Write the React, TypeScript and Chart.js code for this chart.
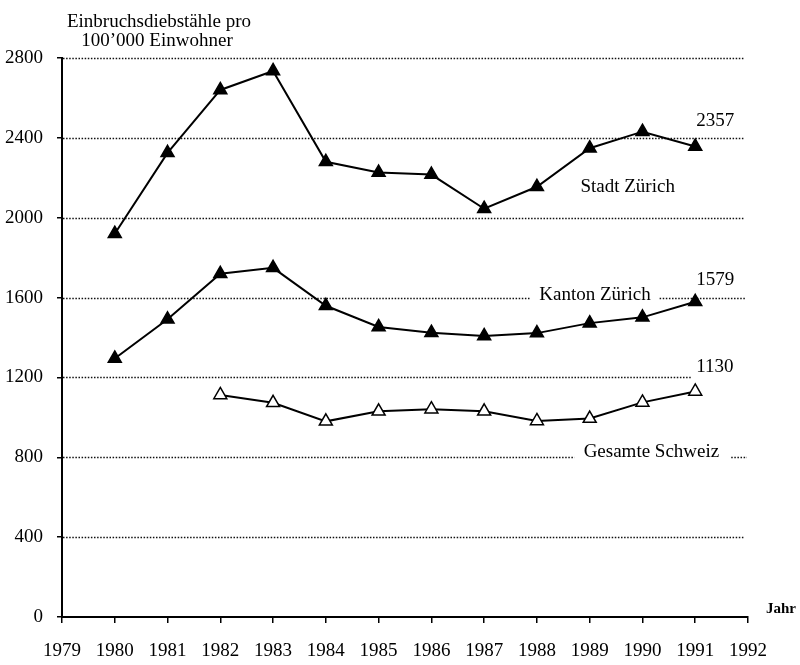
import React, { useEffect, useRef } from "react";
import { Chart, registerables } from "chart.js";

Chart.register(...registerables);

const years = ["1979", "1980", "1981", "1982", "1983", "1984", "1985", "1986", "1987", "1988", "1989", "1990", "1991", "1992"];
const stadtZuerich = [null, 1920, 2325, 2640, 2735, 2280, 2226, 2216, 2045, 2155, 2348, 2431, 2357, null];
const kantonZuerich = [null, 1295, 1491, 1719, 1749, 1559, 1453, 1424, 1408, 1422, 1472, 1501, 1579, null];
const gesamteSchweiz = [null, null, null, 1112, 1073, 980, 1030, 1041, 1030, 982, 994, 1075, 1130, null];
const seriesNames = ["Stadt Zürich", "Kanton Zürich", "Gesamte Schweiz"];
const gridValues = [400, 800, 1200, 1600, 2000, 2400, 2800];
const titleLines = ["Einbruchsdiebstähle pro", "100’000 Einwohner"];
const xAxisTitle = "Jahr";

const FONT = "'Liberation Serif', 'Times New Roman', serif";

function lastValue(arr: (number | null)[]): number {
  for (let i = arr.length - 1; i >= 0; i--) if (arr[i] != null) return arr[i] as number;
  return 0;
}
function lastIndex(arr: (number | null)[]): number {
  for (let i = arr.length - 1; i >= 0; i--) if (arr[i] != null) return i;
  return 0;
}

const annotationPlugin = {
  id: "scanAnnotations",
  beforeDatasetsDraw(chart: any) {
    const ctx = chart.ctx;
    const xS = chart.scales.x;
    const yS = chart.scales.y;
    const { left, right } = chart.chartArea;
    const step = xS.getPixelForValue(1) - xS.getPixelForValue(0);
    const xAt = (yr: number) => xS.getPixelForValue(0) + (yr - 1979) * step;
    ctx.save();
    ctx.font = `19px ${FONT}`;
    const kW = ctx.measureText(seriesNames[1]).width;
    const sW = ctx.measureText(seriesNames[2]).width;
    const kCx = xAt(1989.1);
    const sCx = xAt(1990.17);
    const endX = right - 3;
    const lastIdx = lastIndex(gesamteSchweiz);
    ctx.setLineDash([1.5, 1.6]);
    ctx.lineWidth = 1.5;
    ctx.strokeStyle = "#111";
    for (const v of gridValues) {
      const y = Math.round(yS.getPixelForValue(v)) + 0.5;
      let segs: [number, number][] = [[left + 1, endX]];
      if (v === 1600) segs = [[left + 1, kCx - kW / 2 - 9], [kCx + kW / 2 + 9, endX]];
      if (v === 1200) segs = [[left + 1, xS.getPixelForValue(lastIdx) - 3]];
      if (v === 800) segs = [[left + 1, sCx - sW / 2 - 9], [sCx + sW / 2 + 12, endX + 2]];
      for (const [a, b] of segs) {
        ctx.beginPath();
        ctx.moveTo(a, y);
        ctx.lineTo(b, y);
        ctx.stroke();
      }
    }
    ctx.restore();
  },
  afterDatasetsDraw(chart: any) {
    const ctx = chart.ctx;
    const xS = chart.scales.x;
    const yS = chart.scales.y;
    const { right, bottom } = chart.chartArea;
    const step = xS.getPixelForValue(1) - xS.getPixelForValue(0);
    const xAt = (yr: number) => xS.getPixelForValue(0) + (yr - 1979) * step;
    ctx.save();
    ctx.fillStyle = "#000";
    ctx.textBaseline = "middle";
    ctx.font = `19px ${FONT}`;

    // title
    ctx.textAlign = "center";
    ctx.fillText(titleLines[0], 159, 22);
    ctx.fillText(titleLines[1], 157, 41);

    // series names
    ctx.fillText(seriesNames[0], xAt(1989.72), yS.getPixelForValue(2155));
    ctx.fillText(seriesNames[1], xAt(1989.1), yS.getPixelForValue(1612));
    ctx.fillText(seriesNames[2], xAt(1990.17), yS.getPixelForValue(825));

    // end values
    ctx.textAlign = "left";
    const ends: [(number | null)[], number][] = [
      [stadtZuerich, -25],
      [kantonZuerich, -22],
      [gesamteSchweiz, -24],
    ];
    for (const [arr, off] of ends) {
      const i = lastIndex(arr);
      ctx.fillText(String(lastValue(arr)), xS.getPixelForValue(i) + 1, yS.getPixelForValue(lastValue(arr)) + off);
    }

    // axis title
    ctx.font = `bold 15px ${FONT}`;
    ctx.fillText(xAxisTitle, right + 18, bottom - 8);
    ctx.restore();
  },
};

export default function App() {
  const ref = useRef<HTMLCanvasElement | null>(null);
  useEffect(() => {
    if (!ref.current) return;
    const tri = { pointStyle: "triangle", pointRadius: 7.5, pointHoverRadius: 7.5, pointBorderWidth: 1.5, pointBorderColor: "#000" };
    const chart = new Chart(ref.current, {
      type: "line",
      data: {
        labels: years,
        datasets: [
          { label: seriesNames[0], data: stadtZuerich, borderColor: "#000", borderWidth: 2, pointBackgroundColor: "#000", ...tri },
          { label: seriesNames[1], data: kantonZuerich, borderColor: "#000", borderWidth: 2, pointBackgroundColor: "#000", ...tri },
          { label: seriesNames[2], data: gesamteSchweiz, borderColor: "#000", borderWidth: 2, pointBackgroundColor: "#fff", ...tri },
        ] as any,
      },
      options: {
        animation: false,
        responsive: false,
        devicePixelRatio: 1,
        layout: { padding: { left: 0, top: 58, right: 52, bottom: 0 } },
        plugins: { legend: { display: false }, tooltip: { enabled: false } },
        scales: {
          x: {
            type: "category",
            offset: false,
            grid: { drawOnChartArea: false, drawTicks: true, tickLength: 6, color: "#000", lineWidth: 1.5 },
            border: { display: true, color: "#000", width: 2 },
            ticks: { color: "#000", font: { family: FONT, size: 19 }, padding: 17, maxRotation: 0, autoSkip: false },
            afterFit: (s: any) => { s.height = 48; },
          },
          y: {
            min: 0,
            max: 2800,
            ticks: {
              stepSize: 400,
              color: "#000",
              font: { family: FONT, size: 19 },
              padding: 14,
              callback: (v: any) => String(v),
            },
            grid: { drawOnChartArea: false, drawTicks: true, tickLength: 5, color: "#000", lineWidth: 1.5 },
            border: { display: true, color: "#000", width: 2 },
            afterFit: (s: any) => { s.width = 62; },
          },
        },
      } as any,
      plugins: [annotationPlugin],
    });
    return () => chart.destroy();
  }, []);
  return (
    <div style={{ position: "absolute", left: 0, top: 0, width: 800, height: 665, background: "#fff" }}>
      <canvas ref={ref} width={800} height={665} style={{ display: "block" }} />
    </div>
  );
}
